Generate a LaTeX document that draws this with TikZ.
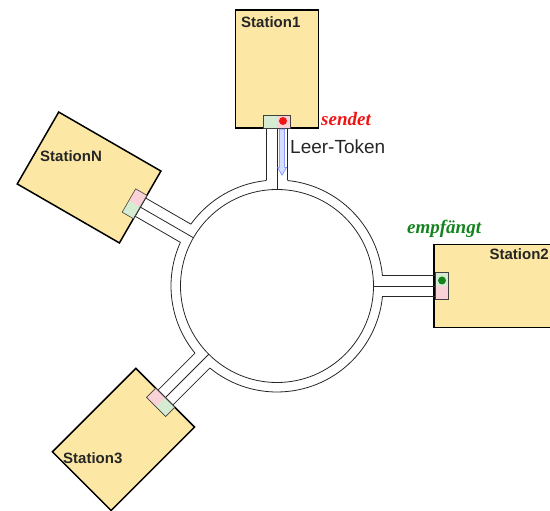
\documentclass[tikz,border=0pt]{standalone}
\usepackage{fontspec}
\setmainfont{Liberation Sans}
\newfontfamily\labelserif{Liberation Serif}
\usepackage{tikz}
\usetikzlibrary{positioning,shapes.arrows}
\definecolor{stationfill}{RGB}{252,232,164}
\definecolor{portgreen}{RGB}{214,236,210}
\definecolor{portpink}{RGB}{248,210,214}
\definecolor{sendred}{RGB}{240,20,20}
\definecolor{recvgreen}{RGB}{20,130,30}
\definecolor{tokenblue}{RGB}{90,120,255}

\begin{document}
\begin{tikzpicture}[x=1pt, y=1pt,
    station/.style={draw, line width=1.5pt, fill=stationfill, minimum width=83pt, minimum height=118pt, inner sep=0pt},
    stname/.style={font=\fontsize{15}{18}\selectfont\bfseries, text=black!85, inner sep=0pt},
    wall/.style={line width=0.8pt, black!85},
    dot/.style={circle, inner sep=0pt, minimum size=8pt},
    event/.style={font=\labelserif\fontsize{19}{22}\selectfont\bfseries\itshape, inner sep=0pt, anchor=west},
    token/.style={single arrow, draw=tokenblue, fill=tokenblue!25, line width=0.5pt, inner xsep=0pt, inner ysep=2.3pt, minimum width=9pt, minimum height=46pt, single arrow head extend=2pt, single arrow tip angle=60}
  ]
  \useasboundingbox (-277,-225) rectangle (273,286);

  % ring
  \draw[wall] (0,0) circle (96.5);
  \foreach \a/\b in {0/90, 90/150, 150/225, 225/360}
    \draw[wall] (\a+5.7:106) arc (\a+5.7:\b-5.7:106);

  % stations
  \node[station] (st1) at (90:217) {};
  \node[station, rotate=-90] (st2) at (0:216) {};
  \node[station, rotate=60] (stN) at (150:217) {};
  \node[station, rotate=135] (st3) at (225:217) {};

  % tubes and ports
  \foreach \t in {90,0,150,225}{
    \begin{scope}[rotate=\t]
      \draw[wall] (105.5,10.5) -- (158,10.5) (105.5,-10.5) -- (158,-10.5) (96.5,0) -- (158,0);
      \fill[portgreen] (158,0) rectangle (171,13.5);
      \fill[portpink] (158,-13.5) rectangle (171,0);
      \draw[black!75, line width=0.6pt] (158,-13.5) rectangle (171,13.5);
    \end{scope}
  }

  \node[dot, fill=sendred] (tx) at (6,165) {};
  \node[dot, fill=recvgreen] (rx) at (165,5.5) {};

  % empty token on its way
  \node[token, rotate=-90] (tokarrow) at (5,136) {};

  \node[stname, anchor=west] (l1) at (-36,264) {Station1};
  \node[stname, anchor=east] (l2) at (272,32) {Station2};
  \node[stname, anchor=west] (lN) at (-237,130) {StationN};
  \node[stname, anchor=west] (l3) at (-214,-172) {Station3};

  \node[event, text=sendred] (send) at (44,167) {sendet};
  \node[event, text=recvgreen] (recv) at (130,57) {empfängt};
  \node[font=\fontsize{19}{22}\selectfont, text=black!85, inner sep=0pt, anchor=west] (tok) at (13,139) {Leer-Token};
\end{tikzpicture}
\end{document}
